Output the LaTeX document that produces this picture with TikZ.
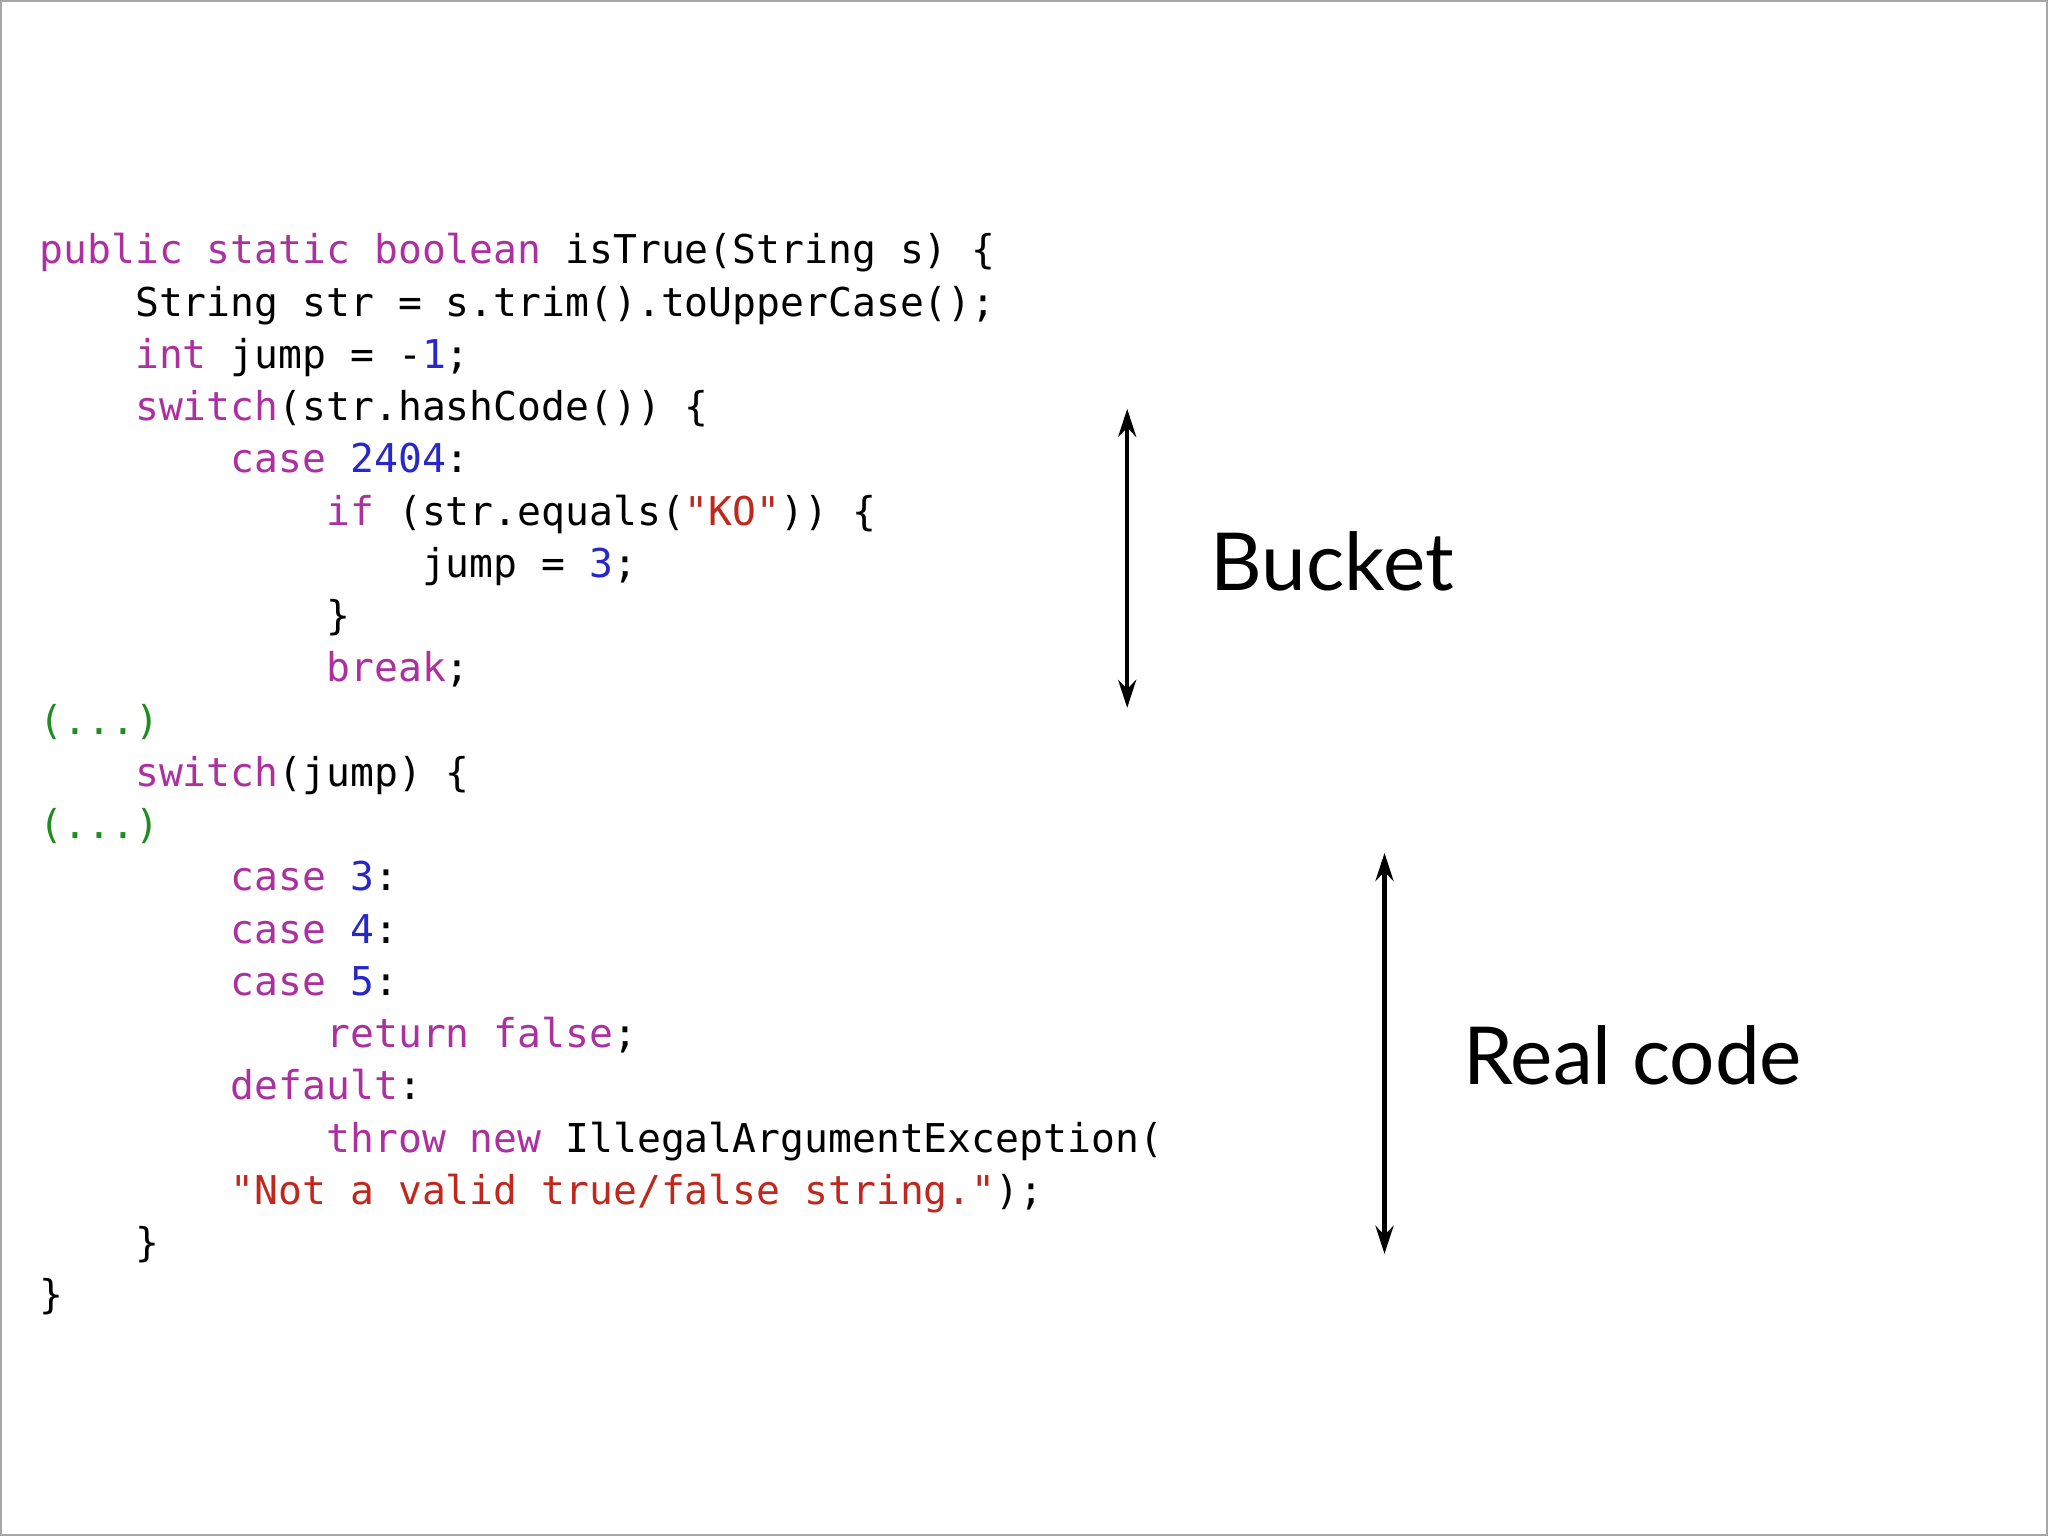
\documentclass[tikz,border=0pt]{standalone}
\usepackage{fontspec}
\setmainfont{Lato}
\newfontfamily\codefont{DejaVu Sans Mono}
\usetikzlibrary{arrows.meta}
\definecolor{kw}{RGB}{172,48,160}
\definecolor{num}{RGB}{40,40,200}
\definecolor{str}{RGB}{192,40,30}
\definecolor{cmt}{RGB}{30,140,30}
\newcommand{\K}[1]{\textcolor{kw}{#1}}
\newcommand{\N}[1]{\textcolor{num}{#1}}
\newcommand{\Sr}[1]{\textcolor{str}{#1}}
\newcommand{\C}[1]{\textcolor{cmt}{#1}}
\begin{document}
\begin{tikzpicture}[x=0.653pt,y=-0.653pt,
  code/.style={anchor=base west,inner sep=0pt,font=\codefont\fontsize{19.85}{24}\selectfont},
  lbl/.style={font=\fontsize{40}{48}\selectfont,inner sep=0pt},
  arr/.style={line width=2.2pt,{Stealth[length=14pt,width=9pt]}-{Stealth[length=14pt,width=9pt]}}]
\useasboundingbox (0,0) rectangle (1568,1176);
\draw[gray!70,line width=1pt] (0.5,0.5) rectangle (1567.5,1175.5);
\def\cw{18.3}
\node[code] (l1) at (30,202) {\K{public static boolean} isTrue(String s) \{};
\node[code] (l2) at (30+4*\cw,242) {String str = s.trim().toUpperCase();};
\node[code] (l3) at (30+4*\cw,282) {\K{int} jump = -\N{1};};
\node[code] (l4) at (30+4*\cw,322) {\K{switch}(str.hashCode()) \{};
\node[code] (l5) at (30+8*\cw,362) {\K{case} \N{2404}:};
\node[code] (l6) at (30+12*\cw,402) {\K{if} (str.equals(\Sr{"KO"})) \{};
\node[code] (l7) at (30+16*\cw,442) {jump = \N{3};};
\node[code] (l8) at (30+12*\cw,482) {\}};
\node[code] (l9) at (30+12*\cw,522) {\K{break};};
\node[code] (l10) at (30,562) {\C{(...)}};
\node[code] (l11) at (30+4*\cw,602) {\K{switch}(jump) \{};
\node[code] (l12) at (30,642) {\C{(...)}};
\node[code] (l13) at (30+8*\cw,682) {\K{case} \N{3}:};
\node[code] (l14) at (30+8*\cw,722) {\K{case} \N{4}:};
\node[code] (l15) at (30+8*\cw,762) {\K{case} \N{5}:};
\node[code] (l16) at (30+12*\cw,802) {\K{return false};};
\node[code] (l17) at (30+8*\cw,842) {\K{default}:};
\node[code] (l18) at (30+12*\cw,882) {\K{throw new} IllegalArgumentException(};
\node[code] (l19) at (30+8*\cw,922) {\Sr{"Not a valid true/false string."});};
\node[code] (l20) at (30+4*\cw,962) {\}};
\node[code] (l21) at (30,1002) {\}};
\coordinate (b1) at (863,313);
\coordinate (b2) at (863,542);
\draw[arr] (b1) -- (b2);
\node[lbl] (bucket) at (1020,430) {Bucket};
\coordinate (r1) at (1060,653);
\coordinate (r2) at (1060,960);
\draw[arr] (r1) -- (r2);
\node[lbl] (real) at (1250,808) {Real code};
\end{tikzpicture}
\end{document}
